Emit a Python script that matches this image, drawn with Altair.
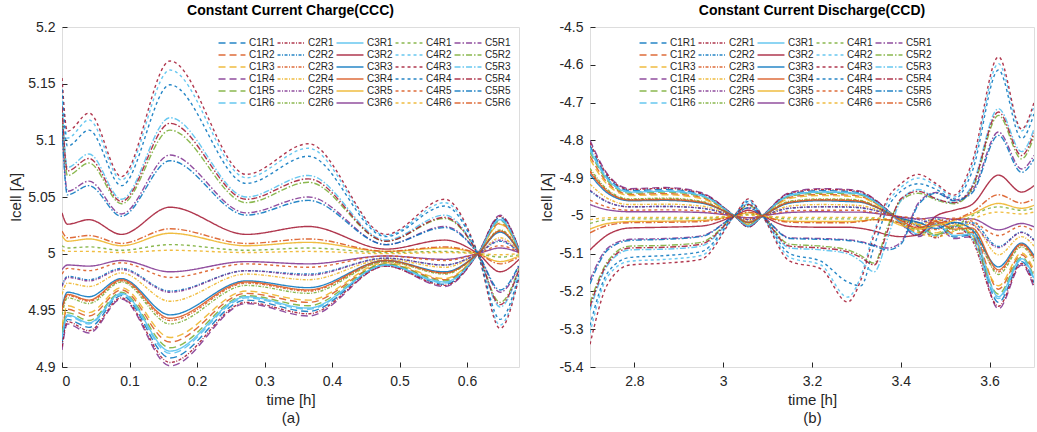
import altair as alt
import pandas as pd

FONT = "Liberation Sans"

# ---------------- Panel (a): Constant Current Charge ----------------
T_A = [0.0, 0.008, 0.04, 0.088, 0.16, 0.273, 0.365, 0.48, 0.567, 0.616, 0.649, 0.677]

A_C1R1 = [4.921, 4.942, 4.935, 4.963, 4.908, 4.959, 4.949, 4.990, 4.973, 5.0, 5.032, 5.004]
A_C1R2 = [4.933, 4.951, 4.945, 4.968, 4.922, 4.965, 4.957, 4.991, 4.977, 5.0, 5.027, 5.003]
A_C1R3 = [4.936, 4.954, 4.948, 4.970, 4.926, 4.967, 4.959, 4.992, 4.978, 5.0, 5.026, 5.003]
A_C1R4 = [4.915, 4.938, 4.930, 4.960, 4.901, 4.956, 4.945, 4.989, 4.971, 5.0, 5.034, 5.004]
A_C1R5 = [4.929, 4.948, 4.941, 4.966, 4.917, 4.963, 4.954, 4.991, 4.976, 5.0, 5.029, 5.003]
A_C1R6 = [4.924, 4.945, 4.938, 4.964, 4.912, 4.961, 4.951, 4.990, 4.974, 5.0, 5.030, 5.004]
A_C2R1 = [4.918, 4.940, 4.932, 4.961, 4.904, 4.957, 4.947, 4.989, 4.972, 5.0, 5.033, 5.004]
A_C2R2 = [4.972, 4.980, 4.977, 4.987, 4.967, 4.985, 4.982, 4.996, 4.990, 5.0, 5.011, 5.001]
A_C2R3 = [4.949, 4.963, 4.958, 4.976, 4.941, 4.974, 4.967, 4.993, 4.983, 5.0, 5.020, 5.002]
A_C2R4 = [4.964, 4.974, 4.971, 4.983, 4.958, 4.982, 4.977, 4.995, 4.988, 5.0, 5.014, 5.002]
A_C2R5 = [4.971, 4.979, 4.976, 4.986, 4.966, 4.985, 4.981, 4.996, 4.990, 5.0, 5.012, 5.001]
A_C2R6 = [4.946, 4.961, 4.956, 4.975, 4.938, 4.972, 4.965, 4.993, 4.982, 5.0, 5.021, 5.003]
A_C3R1 = [4.926, 4.946, 4.939, 4.965, 4.914, 4.962, 4.952, 4.990, 4.975, 5.0, 5.030, 5.003]
A_C3R2 = [5.036, 5.026, 5.030, 5.017, 5.041, 5.017, 5.024, 5.004, 5.012, 5.0, 4.984, 4.995]
A_C3R3 = [4.953, 4.966, 4.962, 4.978, 4.946, 4.976, 4.970, 4.994, 4.984, 5.0, 5.019, 5.002]
A_C3R4 = [4.951, 4.964, 4.959, 4.977, 4.943, 4.975, 4.968, 4.994, 4.983, 5.0, 5.020, 5.002]
A_C3R5 = [5.016, 5.011, 5.013, 5.007, 5.018, 5.007, 5.010, 5.002, 5.005, 5.0, 4.993, 4.998]
A_C3R6 = [4.986, 4.990, 4.989, 4.994, 4.984, 4.993, 4.991, 4.998, 4.995, 5.0, 5.005, 5.001]
A_C4R1 = [5.007, 5.005, 5.006, 5.003, 5.008, 5.003, 5.005, 5.001, 5.002, 5.0, 4.997, 4.999]
A_C4R2 = [5.150, 5.102, 5.118, 5.065, 5.162, 5.067, 5.093, 5.016, 5.045, 5.0, 4.937, 4.980]
A_C4R3 = [5.155, 5.108, 5.124, 5.068, 5.170, 5.070, 5.097, 5.017, 5.048, 5.0, 4.934, 4.979]
A_C4R4 = [5.145, 5.095, 5.109, 5.060, 5.149, 5.062, 5.086, 5.015, 5.042, 5.0, 4.942, 4.982]
A_C4R5 = [4.982, 4.987, 4.985, 4.992, 4.979, 4.991, 4.988, 4.998, 4.994, 5.0, 5.007, 5.001]
A_C4R6 = [5.003, 5.002, 5.002, 5.001, 5.003, 5.001, 5.002, 5.000, 5.001, 5.0, 4.999, 5.000]
A_C5R1 = [5.115, 5.055, 5.064, 5.035, 5.087, 5.036, 5.050, 5.008, 5.024, 5.0, 4.966, 4.989]
A_C5R2 = [5.125, 5.069, 5.080, 5.044, 5.109, 5.045, 5.063, 5.011, 5.031, 5.0, 4.957, 4.987]
A_C5R3 = [5.135, 5.076, 5.088, 5.048, 5.120, 5.050, 5.069, 5.012, 5.034, 5.0, 4.953, 4.985]
A_C5R4 = [5.130, 5.073, 5.084, 5.046, 5.115, 5.048, 5.066, 5.011, 5.032, 5.0, 4.955, 4.986]
A_C5R5 = [5.110, 5.052, 5.060, 5.033, 5.082, 5.034, 5.047, 5.008, 5.023, 5.0, 4.968, 4.990]
A_C5R6 = [5.020, 5.014, 5.016, 5.009, 5.022, 5.009, 5.013, 5.002, 5.006, 5.0, 4.991, 4.997]

# ---------------- Panel (b): Constant Current Discharge ----------------
T_B = [2.70, 2.74, 2.79, 2.87, 2.95, 3.025, 3.057, 3.088, 3.15, 3.22, 3.28,
       3.31, 3.34, 3.37, 3.40, 3.44, 3.48, 3.52, 3.56, 3.62, 3.672, 3.70]

B_C1R1 = [-4.814, -4.898, -4.933, -4.930, -4.942, -5.0, -5.028, -5.0, -4.942, -4.933, -4.935, -4.940, -4.958, -4.986, -5.019, -5.051, -5.023, -5.056, -5.051, -5.229, -5.121, -5.177]
B_C1R2 = [-4.842, -4.913, -4.943, -4.941, -4.951, -5.0, -5.024, -5.0, -4.951, -4.943, -4.945, -4.949, -4.964, -4.988, -5.016, -5.044, -5.020, -5.047, -5.044, -5.194, -5.103, -5.150]
B_C1R3 = [-4.850, -4.918, -4.946, -4.944, -4.954, -5.0, -5.023, -5.0, -4.954, -4.946, -4.948, -4.951, -4.966, -4.989, -5.008, -5.023, -5.045, -5.023, -5.049, -5.185, -5.098, -5.143]
B_C1R4 = [-4.800, -4.890, -4.928, -4.925, -4.938, -5.0, -5.030, -5.0, -4.938, -4.928, -4.930, -4.935, -4.955, -4.985, -5.020, -5.055, -5.025, -5.060, -5.055, -5.246, -5.130, -5.190]
B_C1R5 = [-4.832, -4.908, -4.940, -4.937, -4.948, -5.0, -5.025, -5.0, -4.948, -4.940, -4.941, -4.945, -4.962, -4.987, -5.008, -5.025, -5.050, -5.025, -5.055, -5.207, -5.109, -5.160]
B_C1R6 = [-4.822, -4.902, -4.936, -4.933, -4.945, -5.0, -5.027, -5.0, -4.945, -4.936, -4.938, -4.942, -4.960, -4.987, -5.009, -5.027, -5.053, -5.027, -5.058, -5.219, -5.116, -5.169]
B_C2R1 = [-4.806, -4.893, -4.930, -4.927, -4.940, -5.0, -5.029, -5.0, -4.940, -4.930, -4.932, -4.937, -4.956, -4.985, -5.010, -5.029, -5.058, -5.029, -5.063, -5.239, -5.126, -5.184]
B_C2R2 = [-4.934, -4.964, -4.976, -4.975, -4.980, -5.0, -5.010, -5.0, -4.980, -4.976, -4.977, -4.979, -4.985, -4.995, -5.007, -5.018, -5.008, -5.020, -5.018, -5.081, -5.043, -5.063]
B_C2R3 = [-4.880, -4.934, -4.957, -4.955, -4.963, -5.0, -5.018, -5.0, -4.963, -4.957, -4.958, -4.961, -4.973, -4.991, -5.006, -5.018, -5.036, -5.018, -5.039, -5.148, -5.078, -5.114]
B_C2R4 = [-4.916, -4.954, -4.970, -4.969, -4.974, -5.0, -5.013, -5.0, -4.974, -4.970, -4.971, -4.973, -4.981, -4.994, -5.008, -5.023, -5.011, -5.025, -5.023, -5.103, -5.055, -5.080]
B_C2R5 = [-4.932, -4.963, -4.976, -4.975, -4.979, -5.0, -5.010, -5.0, -4.979, -4.976, -4.976, -4.978, -4.985, -4.995, -5.003, -5.010, -5.020, -5.010, -5.022, -5.084, -5.044, -5.065]
B_C2R6 = [-4.874, -4.931, -4.955, -4.953, -4.961, -5.0, -5.019, -5.0, -4.961, -4.955, -4.956, -4.959, -4.972, -4.991, -5.013, -5.035, -5.016, -5.038, -5.035, -5.155, -5.082, -5.120]
B_C3R1 = [-4.826, -4.904, -4.937, -4.935, -4.946, -5.0, -5.026, -5.0, -4.946, -4.937, -4.939, -4.943, -4.961, -4.987, -5.017, -5.048, -5.022, -5.052, -5.048, -5.214, -5.113, -5.165]
B_C3R2 = [-5.090, -5.050, -5.032, -5.030, -5.027, -5.0, -4.985, -5.0, -5.028, -5.030, -5.030, -5.033, -5.040, -5.050, -5.055, -5.050, -5.000, -4.985, -4.970, -4.892, -4.937, -4.920]
B_C3R3 = [-4.890, -4.940, -4.960, -4.959, -4.966, -5.0, -5.017, -5.0, -4.966, -4.960, -4.962, -4.964, -4.975, -4.992, -5.006, -5.017, -5.033, -5.017, -5.036, -5.135, -5.072, -5.105]
B_C3R4 = [-4.884, -4.936, -4.958, -4.957, -4.964, -5.0, -5.017, -5.0, -4.964, -4.958, -4.959, -4.962, -4.974, -4.991, -5.012, -5.032, -5.015, -5.035, -5.032, -5.143, -5.075, -5.110]
B_C3R5 = [-5.035, -5.020, -5.015, -5.014, -5.012, -5.0, -4.992, -5.0, -5.014, -5.015, -5.015, -5.013, -5.010, -5.012, -5.025, -5.035, -5.025, -5.012, -4.995, -4.967, -4.980, -4.972]
B_C3R6 = [-4.970, -4.984, -4.989, -4.989, -4.991, -5.0, -5.005, -5.0, -4.991, -4.989, -4.990, -4.990, -4.993, -4.998, -5.003, -5.008, -5.004, -5.009, -5.008, -5.037, -5.020, -5.029]
B_C4R1 = [-5.020, -5.010, -5.008, -5.008, -5.007, -5.0, -4.996, -5.0, -5.008, -5.008, -5.008, -5.008, -5.008, -5.010, -5.020, -5.040, -5.050, -5.030, -5.000, -4.976, -4.985, -4.980]
B_C4R2 = [-5.310, -5.160, -5.120, -5.115, -5.105, -5.0, -4.958, -5.0, -5.110, -5.130, -5.215, -5.160, -5.040, -4.965, -4.925, -4.900, -4.920, -4.950, -4.870, -4.597, -4.775, -4.710]
B_C4R3 = [-5.340, -5.180, -5.130, -5.125, -5.115, -5.0, -4.955, -5.0, -5.120, -5.140, -5.228, -5.170, -5.050, -4.955, -4.915, -4.890, -4.915, -4.945, -4.860, -4.579, -4.770, -4.700]
B_C4R4 = [-5.290, -5.150, -5.110, -5.105, -5.095, -5.0, -4.962, -5.0, -5.100, -5.120, -5.175, -5.185, -5.080, -4.980, -4.935, -4.915, -4.930, -4.955, -4.885, -4.614, -4.795, -4.730]
B_C4R5 = [-4.958, -4.977, -4.985, -4.984, -4.987, -5.0, -5.006, -5.0, -4.987, -4.985, -4.985, -4.986, -4.991, -4.997, -5.002, -5.006, -5.013, -5.006, -5.014, -5.052, -5.027, -5.040]
B_C4R6 = [-5.010, -5.005, -5.004, -5.004, -5.004, -5.0, -4.998, -5.0, -5.004, -5.004, -5.004, -5.004, -5.005, -5.008, -5.020, -5.045, -5.055, -5.040, -5.010, -4.990, -4.995, -4.990]
B_C5R1 = [-5.170, -5.085, -5.062, -5.060, -5.053, -5.0, -4.979, -5.0, -5.058, -5.060, -5.063, -5.068, -5.078, -5.085, -5.070, -4.965, -4.938, -4.958, -4.935, -4.778, -4.876, -4.840]
B_C5R2 = [-5.230, -5.120, -5.080, -5.078, -5.070, -5.0, -4.972, -5.0, -5.075, -5.080, -5.090, -5.105, -5.125, -5.030, -4.960, -4.940, -4.958, -4.968, -4.930, -4.734, -4.849, -4.790]
B_C5R3 = [-5.250, -5.130, -5.090, -5.088, -5.080, -5.0, -4.968, -5.0, -5.085, -5.090, -5.100, -5.120, -5.148, -5.060, -4.960, -4.930, -4.955, -4.965, -4.920, -4.716, -4.830, -4.770]
B_C5R4 = [-5.240, -5.125, -5.085, -5.083, -5.075, -5.0, -4.970, -5.0, -5.080, -5.085, -5.095, -5.110, -5.130, -5.040, -4.955, -4.935, -4.955, -4.965, -4.925, -4.725, -4.840, -4.780]
B_C5R5 = [-5.180, -5.090, -5.065, -5.062, -5.055, -5.0, -4.978, -5.0, -5.060, -5.062, -5.065, -5.070, -5.080, -5.090, -5.075, -4.970, -4.940, -4.960, -4.940, -4.787, -4.885, -4.850]
B_C5R6 = [-5.045, -5.025, -5.018, -5.017, -5.015, -5.0, -4.990, -5.0, -5.017, -5.018, -5.018, -5.015, -5.010, -5.010, -5.020, -5.030, -5.020, -5.010, -4.990, -4.944, -4.966, -4.955]

# ---------------- series naming and styling ----------------
CELLS = [f"C{c}R{r}" for c in range(1, 6) for r in range(1, 7)]   # legend fills column-wise
MATLAB = ["#0072BD", "#D95319", "#EDB120", "#7E2F8E", "#77AC30", "#4DBEEE", "#A2142F"]
DASH_BY_C = {"1": [7, 4], "2": [3, 1.5, 1, 1.5], "3": [1, 0], "4": [3, 3], "5": [6, 2, 1.5, 2]}
WIDTH_BY_C = {"1": 1.4, "2": 1.0, "3": 1.0, "4": 1.1, "5": 1.7}


def color_of(s):
    return MATLAB[((int(s[1]) - 1) * 6 + int(s[3]) - 1) % 7]


COLORS = [color_of(s) for s in CELLS]
DASHES = [DASH_BY_C[s[1]] for s in CELLS]
WIDTHS = [WIDTH_BY_C[s[1]] for s in CELLS]


def frame(prefix, times):
    rows = []
    for i, s in enumerate(CELLS):
        vals = globals()[f"{prefix}_{s}"]
        for t, v in zip(times, vals):
            rows.append({"t": t, "v": v, "s": s, "o": i})
    return pd.DataFrame(rows)


DF_A = frame("A", T_A)
DF_B = frame("B", T_B)

AXIS_COMMON = dict(
    labelFont=FONT, labelFontSize=14, labelColor="#262626",
    titleFont=FONT, titleFontSize=15, titleColor="#262626", titleFontWeight="normal",
    grid=False, domain=False, ticks=True, tickSize=5, tickColor="#262626",
    offset=-5, labelPadding=7,
)

# a wide, flat legend glyph: long line sample, short row height
LEGEND_GLYPH = "M-2.2,0L2.2,0"


def panel(df, xdom, ydom, xticks, yticks, xfmt, yfmt, title, sub, width, lx):
    legend = alt.Legend(
        title=None, orient="none", legendX=lx, legendY=9, columns=5,
        symbolType=LEGEND_GLYPH, symbolSize=150, symbolStrokeWidth=1.4,
        labelFont=FONT, labelFontSize=10, labelColor="#262626",
        labelOffset=10, columnPadding=-1, rowPadding=0,
    )
    xlab = f"replace(format(datum.value, '{xfmt}'), '\u2212', '-')"
    ylab = f"replace(format(datum.value, '{yfmt}'), '\u2212', '-')"
    lines = alt.Chart(df).mark_line(interpolate="monotone", opacity=0.85, clip=True).encode(
        x=alt.X("t:Q", scale=alt.Scale(domain=xdom, nice=False, zero=False),
                axis=alt.Axis(values=xticks, labelExpr=xlab, title=["time [h]", sub],
                              titlePadding=4, titleLineHeight=18, **AXIS_COMMON)),
        y=alt.Y("v:Q", scale=alt.Scale(domain=ydom, nice=False, zero=False),
                axis=alt.Axis(values=yticks, labelExpr=ylab, title="Icell [A]",
                              titlePadding=4, **AXIS_COMMON)),
        color=alt.Color("s:N", scale=alt.Scale(domain=CELLS, range=COLORS), legend=legend),
        strokeDash=alt.StrokeDash("s:N", scale=alt.Scale(domain=CELLS, range=DASHES), legend=legend),
        strokeWidth=alt.StrokeWidth("s:N", scale=alt.Scale(domain=CELLS, range=WIDTHS), legend=None),
        order=alt.Order("o:Q"),
    )
    return lines.properties(
        width=width, height=340,
        title=alt.TitleParams(title, font=FONT, fontSize=14, fontWeight="bold",
                              color="black", offset=2, anchor="middle"),
    )


left = panel(DF_A, [0, 0.677], [4.9, 5.2],
             [0, 0.1, 0.2, 0.3, 0.4, 0.5, 0.6],
             [4.9, 4.95, 5.0, 5.05, 5.1, 5.15, 5.2],
             ".1~f", ".2~f", "Constant Current Charge(CCC)", "(a)", 457, 163)
right = panel(DF_B, [2.7, 3.7], [-5.4, -4.5],
              [2.8, 3.0, 3.2, 3.4, 3.6],
              [-5.4, -5.3, -5.2, -5.1, -5.0, -4.9, -4.8, -4.7, -4.6, -4.5],
              ".1~f", ".1~f", "Constant Current Discharge(CCD)", "(b)", 444, 56)

chart = alt.hconcat(left, right, spacing=19).resolve_scale(
    color="independent", strokeDash="independent", strokeWidth="independent"
).resolve_legend(color="independent", strokeDash="independent").properties(
    padding={"left": 8, "top": 3, "right": 0, "bottom": 0}
).configure_view(stroke="#262626", strokeWidth=1).configure(background="white")

chart.save("out.html", embed_options={"renderer": "svg", "actions": False})
